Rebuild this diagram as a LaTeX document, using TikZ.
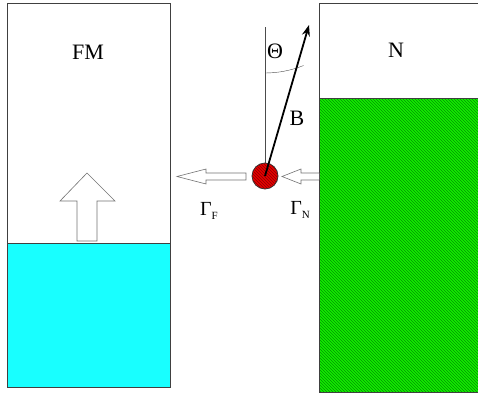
\documentclass[tikz,border=0pt]{standalone}
\usepackage{fontspec}
\setmainfont{Liberation Serif}
\usetikzlibrary{patterns,arrows.meta}
\definecolor{cyanfill}{RGB}{24,255,255}
\definecolor{greenfill}{RGB}{20,235,0}
\definecolor{greenline}{RGB}{0,150,0}
\definecolor{ballred}{RGB}{230,0,0}
\definecolor{ballline}{RGB}{140,0,0}
\tikzset{
  box/.style={draw=black!75, line width=1pt},
  hollow/.style={draw=black!55, fill=white, line width=0.6pt},
  lbl/.style={inner sep=0pt, font=\fontsize{22}{22}\selectfont},
  glbl/.style={inner sep=0pt, font=\fontsize{20}{20}\selectfont},
}
\newcommand{\mysub}[1]{\raisebox{-0.45ex}{\fontsize{11}{11}\selectfont #1}}
\begin{document}
\begin{tikzpicture}[x=1pt,y=-1pt]
\useasboundingbox (0,0) rectangle (478,395);
% left box (FM)
\fill[cyanfill] (7,243) rectangle (170,387);
\draw[box] (7,4) rectangle (170,387);
\draw[box] (7,243) -- (170,243);
\node[lbl] (fm) at (88,52) {FM};
% up arrow
\draw[hollow] (77,241) -- (77,201) -- (60,201) -- (87,173) -- (115,201) -- (97,201) -- (97,241) -- cycle;
% right box (N)
\fill[greenfill] (319,99) rectangle (480,392);
\fill[pattern=north west lines, pattern color=greenline] (319,99) rectangle (480,392);
\draw[box] (480,4) -- (319,4) -- (319,392) -- (480,392);
\draw[box] (319,99) -- (480,99);
\node[lbl] (n) at (396,50) {N};
% hollow arrows
\draw[hollow] (246,173) -- (206,173) -- (206,169) -- (177,176.5) -- (206,184) -- (206,180) -- (246,180) -- cycle;
\draw[hollow] (319,173) -- (301,173) -- (301,169) -- (282,176.5) -- (301,184) -- (301,180) -- (319,180);
% ball
\coordinate (c) at (265,176);
\coordinate (top) at (265,27);
\coordinate (btip) at (309,25);
\draw[black!70, line width=0.5pt] (c) -- (top);
\draw[black!70, line width=0.4pt] (265,73) arc[start angle=90, end angle=68, radius=103];
\filldraw[fill=ballred, draw=black!80, line width=0.8pt] (c) circle (13);
\fill[pattern=north west lines, pattern color=ballline] (c) circle (12.5);
\draw[line width=1.8pt, -{Stealth[length=11pt,width=8pt]}] (c) -- (btip);
\node[lbl] (theta) at (275,51) {Θ};
\node[lbl] (b) at (297,118) {B};
\node[glbl] (gf) at (209,211) {Γ\mysub{F}};
\node[glbl] (gn) at (300,210) {Γ\mysub{N}};
\end{tikzpicture}
\end{document}
